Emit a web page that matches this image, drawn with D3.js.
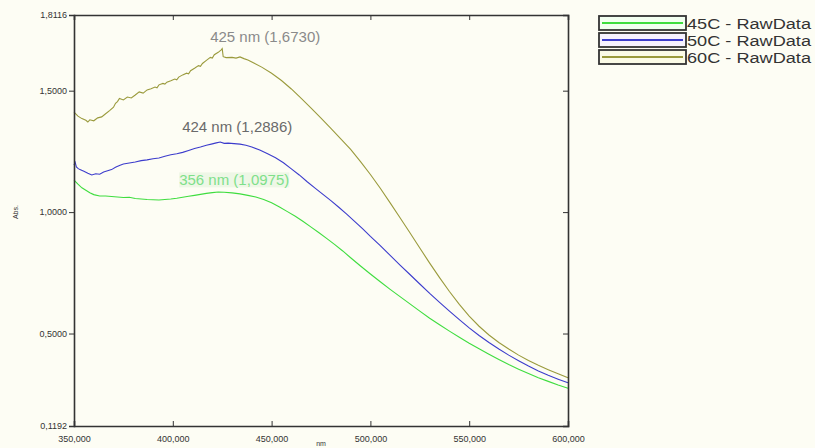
<!DOCTYPE html>
<html>
<head>
<meta charset="utf-8">
<script src="https://cdn.jsdelivr.net/npm/d3@7"></script>
<style>
  body { margin: 0; background: #fdfdf4; }
  svg { display: block; font-family: "Liberation Sans", Arial, sans-serif; }
</style>
</head>
<body>
<svg id="chart" width="815" height="448"></svg>
<script>
// spectra: [nm, abs]
var raw45 = [[350,1.132],[352,1.115],[354,1.100],[356,1.090],[358,1.080],[360,1.072],[363,1.066],[366,1.066],
  [369,1.064],[372,1.062],[375,1.060],[378,1.061],[381,1.056],[384,1.054],[387,1.052],[390,1.051],[393,1.050],
  [396,1.052],[399,1.054],[402,1.057],[405,1.061],[408,1.065],[411,1.069],[414,1.073],[417,1.077],[420,1.080],
  [423,1.083],[426,1.082],[430,1.079],[434,1.075],[438,1.069],[442,1.062],[446,1.052],[450,1.038],[454,1.021],
  [458,1.002],[462,0.983],[466,0.961],[470,0.938],[474,0.915],[478,0.891],[482,0.866],[486,0.840],[490,0.812],
  [495,0.778],[500,0.745],[505,0.713],[510,0.682],[515,0.652],[520,0.622],[525,0.592],[530,0.563],[535,0.536],
  [540,0.510],[545,0.485],[550,0.460],[555,0.437],[560,0.415],[565,0.393],[570,0.372],[575,0.353],[580,0.335],
  [585,0.318],[590,0.303],[595,0.288],[600,0.275]];

var raw50 = [[350,1.194],[350.6,1.205],[351.2,1.186],[352,1.180],[353,1.175],[355,1.168],[357,1.160],[359,1.153],
  [361,1.158],[363,1.156],[365,1.165],[367,1.170],[369,1.175],[371,1.185],[373,1.192],[375,1.198],[378,1.202],
  [381,1.206],[384,1.212],[387,1.215],[390,1.220],[393,1.223],[396,1.230],[399,1.236],[402,1.240],[405,1.246],
  [408,1.254],[411,1.262],[414,1.268],[417,1.275],[420,1.281],[422,1.285],[424,1.2886],[426,1.283],[428,1.284],
  [431,1.282],[434,1.280],[437,1.275],[440,1.268],[444,1.256],[448,1.240],[452,1.224],[456,1.203],[460,1.178],
  [464,1.153],[468,1.125],[472,1.099],[476,1.073],[480,1.047],[484,1.020],[488,0.992],[492,0.962],[496,0.932],
  [500,0.900],[505,0.862],[510,0.822],[515,0.782],[520,0.743],[525,0.704],[530,0.665],[535,0.628],[540,0.592],
  [545,0.557],[550,0.523],[555,0.492],[560,0.463],[565,0.436],[570,0.411],[575,0.388],[580,0.366],[585,0.346],
  [590,0.328],[595,0.312],[600,0.297]];

var raw60 = [[350,1.412],[352,1.395],[354,1.385],[356,1.378],[357,1.371],[358,1.380],[360,1.376],[362,1.388],
  [364,1.392],[366,1.405],[368,1.418],[370,1.432],[371,1.448],[372,1.455],[373,1.468],[375,1.462],[377,1.474],
  [379,1.470],[381,1.482],[383,1.495],[385,1.490],[387,1.503],[389,1.508],[391,1.515],[392,1.512],[393,1.524],
  [395,1.530],[396,1.527],[397,1.535],[399,1.541],[401,1.548],[402,1.545],[403,1.556],[405,1.565],[407,1.572],
  [408,1.569],[409,1.582],[411,1.592],[413,1.603],[414,1.600],[415,1.612],[417,1.625],[419,1.637],[420,1.634],
  [421,1.648],[423,1.658],[424.5,1.668],[425,1.673],[425.5,1.640],[427,1.636],[430,1.637],[432,1.634],[434,1.639],
  [436,1.632],[438,1.626],[440,1.618],[445,1.597],[450,1.572],[455,1.542],[460,1.507],[465,1.468],[470,1.428],
  [475,1.387],[480,1.345],[485,1.302],[490,1.258],[495,1.208],[500,1.155],[505,1.098],[510,1.038],[515,0.977],
  [520,0.915],[525,0.852],[530,0.790],[535,0.730],[540,0.673],[545,0.620],[550,0.572],[555,0.530],[560,0.494],
  [565,0.463],[570,0.436],[575,0.411],[580,0.389],[585,0.369],[590,0.351],[595,0.334],[600,0.318]];

var seriesNames = ["45C - RawData", "50C - RawData", "60C - RawData"];
var seriesColors = ["#3fdd3f", "#3c3ccc", "#9a9a3c"];
var legendFills = ["#f2fff0", "#f6f2ff", "#fbfbe6"];
var xTicks = [350, 400, 450, 500, 550, 600];
var yTicks = [0.1192, 0.5, 1.0, 1.5, 1.8116];
var peakTexts = ["425 nm (1,6730)", "424 nm (1,2886)", "356 nm (1,0975)"];
var peakNm = [425, 424, 424];
var peakAbs = [1.673, 1.2886, 1.0975];

(function() {
  var svg = d3.select("#chart");
  var mLeft = 74, mRight = 568, mTop = 15, mBottom = 426;

  var x = d3.scaleLinear().domain([350, 600]).range([mLeft, mRight]);
  var y = d3.scaleLinear().domain([0.1192, 1.8116]).range([mBottom, mTop]);

  function comma(f) { return function(d) { return d3.format(f)(d).replace(".", ","); }; }

  // curves
  var line = d3.line().x(function(d) { return x(d[0]); }).y(function(d) { return y(d[1]); });
  var allSeries = [raw45, raw50, raw60];
  allSeries.forEach(function(s, i) {
    svg.append("path").datum(s)
      .attr("d", line)
      .attr("fill", "none")
      .attr("stroke", seriesColors[i])
      .attr("stroke-width", 1.1);
  });

  // peak annotations (label offsets from the peak point)
  var labelColors = ["#8a8a8a", "#6a6a6a", "#7ee08a"];
  var labelDx = [43, 17, 14], labelDy = [-7, -10, -3];
  peakTexts.forEach(function(txt, i) {
    var t = svg.append("text")
      .attr("x", x(peakNm[i]) + labelDx[i])
      .attr("y", y(peakAbs[i]) + labelDy[i])
      .attr("text-anchor", "middle")
      .attr("font-size", 15)
      .attr("fill", labelColors[i])
      .text(txt);
    if (i == 2) {
      var bb = t.node().getBBox();
      svg.insert("rect", "text")
        .attr("x", bb.x).attr("y", bb.y + 1)
        .attr("width", bb.width).attr("height", bb.height - 2)
        .attr("fill", "#eef7e6");
    }
  });

  // axes
  var gx = svg.append("g").attr("transform", "translate(0," + mBottom + ")")
    .call(d3.axisBottom(x).tickValues(xTicks).tickSize(-5).tickPadding(10).tickFormat(comma(".3f")));
  var gy = svg.append("g").attr("transform", "translate(" + mLeft + ",0)")
    .call(d3.axisLeft(y).tickValues(yTicks).tickSize(5).tickPadding(2).tickFormat(comma(".4f")));
  var gt = svg.append("g").attr("transform", "translate(0," + mTop + ")")
    .call(d3.axisTop(x).tickValues(xTicks.slice(1, -1)).tickSize(-5).tickFormat(""));
  var gr = svg.append("g").attr("transform", "translate(" + mRight + ",0)")
    .call(d3.axisRight(y).tickValues(yTicks.slice(1, -1)).tickSize(-5).tickFormat(""));

  [gx, gy, gt, gr].forEach(function(g) {
    g.select(".domain").attr("stroke", "#333").attr("stroke-width", 1.6);
    g.selectAll(".tick line").attr("stroke", "#333");
    g.selectAll(".tick text").attr("fill", "#333").attr("font-size", 9).attr("font-family", "Liberation Sans, Arial");
  });

  svg.append("text").attr("x", x(475)).attr("y", 446).attr("text-anchor", "middle")
    .attr("font-size", 7).attr("fill", "#333").text("nm");
  svg.append("text").attr("transform", "translate(18," + y(1.0) + ") rotate(-90)")
    .attr("text-anchor", "middle").attr("font-size", 7).attr("fill", "#333").text("Abs.");

  // legend
  var lg = svg.append("g").attr("transform", "translate(599,16)");
  seriesNames.forEach(function(name, i) {
    var row = lg.append("g").attr("transform", "translate(0," + (i * 17) + ")");
    row.append("rect").attr("x", 0).attr("y", 0).attr("width", 87).attr("height", 14)
      .attr("fill", legendFills[i]).attr("stroke", "#333").attr("stroke-width", 1.8);
    row.append("line").attr("x1", 3).attr("x2", 84).attr("y1", 7).attr("y2", 7)
      .attr("stroke", seriesColors[i]).attr("stroke-width", 2);
    row.append("text").attr("x", 88).attr("y", 12.5).attr("font-size", 15.5)
      .attr("textLength", 124).attr("lengthAdjust", "spacingAndGlyphs")
      .attr("fill", "#333").text(name);
  });
})();
</script>
</body>
</html>
